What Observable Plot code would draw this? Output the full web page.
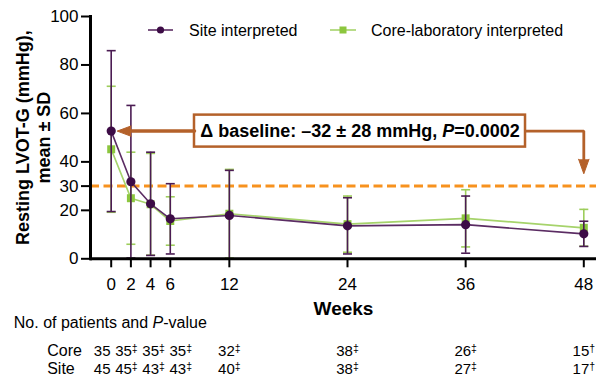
<!DOCTYPE html>
<html>
<head>
<meta charset="utf-8">
<script src="https://cdn.jsdelivr.net/npm/d3@7"></script>
<script src="https://cdn.jsdelivr.net/npm/@observablehq/plot@0.6"></script>
<style>
  html, body { margin: 0; padding: 0; background: #fff; }
  #wrap { position: relative; width: 596px; height: 377px; font-family: "Liberation Sans", Arial, sans-serif; }
  #legend { position: absolute; left: 0; top: 0; width: 596px; height: 40px; pointer-events: none; }
</style>
</head>
<body>
<div id="wrap"></div>
<script>
// ---- data ----
const weeks = [0, 2, 4, 6, 12, 24, 36, 48];
const siteMean = [52.7, 31.8, 22.7, 16.5, 17.9, 13.6, 14.1, 10.3];
const siteSD   = [33.2, 31.5, 21.3, 14.5, 18.6, 11.6, 11.8, 5.2];
const coreMean = [45.2, 25.0, 22.5, 15.6, 18.6, 14.3, 16.7, 12.8];
const coreSD   = [26.0, 19.0, 21.0, 10.0, 18.3, 11.6, 11.8, 7.6];
const coreN = [35, 35, 35, 35, 32, 38, 26, 15];
const siteN = [45, 45, 43, 43, 40, 38, 27, 17];
const sigMark = ["", "‡", "‡", "‡", "‡", "‡", "‡", "†"];
const yTicks = [0, 20, 30, 40, 60, 80, 100];
const threshold = 30;
const seriesNames = ["Site interpreted", "Core-laboratory interpreted"];
const annotationText = "Δ baseline: –32 ± 28 mmHg, _P_=0.0002";
const boxWeeks = [8.46, 42.08];
const boxHalfHeight = 6.6;
const arrowTipWeek = 0.61;
const downTip = 35.1;

// ---- colours ----
const purple = "#3d0c46", purpleLine = "#5b2c63", purpleBar = "#4b1c53";
const green = "#8cc63e", greenLine = "#a6d36b", greenBar = "#9dcd5b";
const brown = "#b4612a", orange = "#f7921e";

const site = weeks.map((w, i) => ({week: w, mean: siteMean[i], lo: Math.max(0, siteMean[i] - siteSD[i]), hi: siteMean[i] + siteSD[i]}));
const core = weeks.map((w, i) => ({week: w, mean: coreMean[i], lo: Math.max(0, coreMean[i] - coreSD[i]), hi: coreMean[i] + coreSD[i]}));
const table = weeks.map((w, i) => ({week: w, core: coreN[i] + sigMark[i], site: siteN[i] + sigMark[i]}));

const capSymbol = { draw(ctx, size) { const r = Math.sqrt(size / Math.PI); ctx.moveTo(-r, 0); ctx.lineTo(r, 0); } };

const y0 = siteMean[0];
const box = [{x1: boxWeeks[0], x2: boxWeeks[1], y1: y0 - boxHalfHeight, y2: y0 + boxHalfHeight}];
const leftArrow = [{x: boxWeeks[0], y: y0}, {x: arrowTipWeek + 1.0, y: y0}];
const rightArrow = [{x: boxWeeks[1], y: y0}, {x: weeks[7], y: y0}, {x: weeks[7], y: downTip + 5}];

function errorMarks(data, barColor) {
  return [
    Plot.ruleX(data, {x: "week", y1: "lo", y2: "hi", stroke: barColor, strokeWidth: 1.6}),
    Plot.dot(data, {x: "week", y: "hi", symbol: capSymbol, r: 4.5, stroke: barColor, strokeWidth: 1.6}),
    Plot.dot(data, {x: "week", y: "lo", symbol: capSymbol, r: 4.5, stroke: barColor, strokeWidth: 1.6})
  ];
}

const chart = Plot.plot({
  width: 596, height: 377,
  marginTop: 16, marginBottom: 118.7, marginLeft: 90, marginRight: 0,
  x: {domain: [0, 48], range: [110.7, 583.3]},
  y: {domain: [0, 100]},
  style: {fontFamily: "'Liberation Sans', Arial, sans-serif", fontSize: "17px", color: "#000", background: "#fff"},
  marks: [
    Plot.ruleY([threshold], {stroke: orange, strokeWidth: 3, strokeDasharray: "9,4.5"}),
    // core laboratory
    Plot.line(core, {x: "week", y: "mean", stroke: greenLine, strokeWidth: 1.7}),
    ...errorMarks(core, greenBar),
    Plot.dot(core, {x: "week", y: "mean", symbol: "square", r: 4.5, fill: green}),
    // site
    Plot.line(site, {x: "week", y: "mean", stroke: purpleLine, strokeWidth: 1.6}),
    ...errorMarks(site, purpleBar),
    Plot.dot(site, {x: "week", y: "mean", r: 4.6, fill: purple}),
    // annotation
    Plot.rect(box, {x1: "x1", x2: "x2", y1: "y1", y2: "y2", fill: "#fff", stroke: brown, strokeWidth: 2.5}),
    Plot.text([annotationText], {x: (boxWeeks[0] + boxWeeks[1]) / 2, y: y0, text: d => d, fontWeight: "bold", fontSize: 18, lineAnchor: "middle"}),
    Plot.line(leftArrow, {x: "x", y: "y", stroke: brown, strokeWidth: 3.5}),
    Plot.vector([{x: arrowTipWeek, y: y0}], {x: "x", y: "y", rotate: -90, length: 14, r: 5.2, shape: "spike", anchor: "end", fill: brown, stroke: brown, strokeWidth: 1, fillOpacity: 1}),
    Plot.line(rightArrow, {x: "x", y: "y", stroke: brown, strokeWidth: 2.8, strokeLinejoin: "miter"}),
    Plot.vector([{x: weeks[7], y: downTip}], {x: "x", y: "y", rotate: 180, length: 14.5, r: 5.2, shape: "spike", anchor: "end", fill: brown, stroke: brown, strokeWidth: 1, fillOpacity: 1}),
    // axes
    Plot.axisY({ticks: yTicks, tickSize: 9, tickPadding: 3, strokeWidth: 2, fontSize: 17, label: null}),
    Plot.axisX({ticks: weeks, tickSize: 9, tickPadding: 10, strokeWidth: 2, fontSize: 17, label: null}),
    Plot.ruleY([0], {strokeWidth: 3}),
    Plot.frame({anchor: "left", strokeWidth: 3}),
    // axis labels
    Plot.text(["Resting LVOT-G (mmHg),\nmean ± SD"], {frameAnchor: "left", text: d => d, rotate: -90, dx: -57.7, fontWeight: "bold", fontSize: 18, lineHeight: 1.19, textAnchor: "middle", lineAnchor: "middle"}),
    Plot.text(["Weeks"], {frameAnchor: "bottom", text: d => d, dy: 50, fontWeight: "bold", fontSize: 19, lineAnchor: "middle"}),
    // patient table
    Plot.text(["No. of patients and _P_-value"], {frameAnchor: "bottom-left", text: d => d, dx: -76.7, dy: 64.2, fontSize: 16, textAnchor: "start", lineAnchor: "middle"}),
    Plot.text(["Core"], {frameAnchor: "bottom-left", text: d => d, dx: -43.3, dy: 92.5, fontSize: 16, textAnchor: "start", lineAnchor: "middle"}),
    Plot.text(["Site"], {frameAnchor: "bottom-left", text: d => d, dx: -43.3, dy: 110.5, fontSize: 16, textAnchor: "start", lineAnchor: "middle"}),
    Plot.text(table, {x: "week", frameAnchor: "bottom", text: "core", dy: 92.5, fontSize: 15, textAnchor: "middle", lineAnchor: "middle", ariaDescription: "table-row"}),
    Plot.text(table, {x: "week", frameAnchor: "bottom", text: "site", dy: 110.5, fontSize: 15, textAnchor: "middle", lineAnchor: "middle", ariaDescription: "table-row"})
  ]
});

// rich text: italic P and superscript daggers
const NS = "http://www.w3.org/2000/svg";
chart.querySelectorAll("text").forEach(t => {
  if (t.children.length) return;
  const s = t.textContent;
  if (!/[‡†]|_P_/.test(s)) return;
  const parts = s.split(/(_P_|[‡†])/).filter(p => p !== "");
  t.textContent = "";
  for (const p of parts) {
    const ts = document.createElementNS(NS, "tspan");
    if (p === "_P_") { ts.textContent = "P"; ts.setAttribute("font-style", "italic"); }
    else if (p === "‡" || p === "†") { ts.textContent = p; ts.setAttribute("font-size", "0.7em"); ts.setAttribute("dy", "-0.4em"); }
    else ts.textContent = p;
    t.appendChild(ts);
  }
});

const wrap = document.getElementById("wrap");
wrap.appendChild(chart);

// spread crowded table labels apart (cluster-based 1D label placement around their week positions)
const GAP = 4.5;
chart.querySelectorAll('g[aria-description="table-row"]').forEach(g => {
  const items = Array.from(g.querySelectorAll("text")).map(t => {
    const m = /translate\(([-\d.e]+),\s*([-\d.e]+)\)/.exec(t.getAttribute("transform") || "");
    return {t, c: m ? +m[1] : 0, y: m ? +m[2] : 0, w: t.getBBox().width};
  }).sort((a, b) => a.c - b.c);
  let clusters = items.map(it => ({items: [it]}));
  const place = cl => {
    const total = d3.sum(cl.items, d => d.w) + GAP * (cl.items.length - 1);
    let off = 0; const rel = cl.items.map(d => { const r = off + d.w / 2; off += d.w + GAP; return r; });
    const start = d3.mean(cl.items, d => d.c) - d3.mean(rel);
    cl.start = start; cl.end = start + total; cl.rel = rel;
  };
  clusters.forEach(place);
  let merged = true;
  while (merged) {
    merged = false;
    for (let i = 0; i < clusters.length - 1; i++) {
      if (clusters[i].end + GAP > clusters[i + 1].start) {
        clusters.splice(i, 2, {items: clusters[i].items.concat(clusters[i + 1].items)});
        place(clusters[i]);
        merged = true; break;
      }
    }
  }
  clusters.forEach(cl => cl.items.forEach((d, j) => {
    const nc = cl.start + cl.rel[j];
    d.t.setAttribute("transform", `translate(${nc},${d.y})`);
  }));
});

// legend
const legend = document.createElementNS(NS, "svg");
legend.setAttribute("id", "legend");
legend.setAttribute("width", 596);
legend.setAttribute("height", 40);
legend.innerHTML = `
  <line x1="148" x2="173" y1="30" y2="30" stroke="${purpleLine}" stroke-width="1.6"/>
  <circle cx="160.5" cy="30" r="3.6" fill="${purple}"/>
  <text x="189" y="30" dy="0.35em" font-size="16" font-family="'Liberation Sans', Arial, sans-serif">${seriesNames[0]}</text>
  <line x1="330" x2="356" y1="30" y2="30" stroke="${greenLine}" stroke-width="1.6"/>
  <rect x="339.5" y="26.5" width="7" height="7" fill="${green}"/>
  <text x="371" y="30" dy="0.35em" font-size="16" font-family="'Liberation Sans', Arial, sans-serif">${seriesNames[1]}</text>`;
wrap.appendChild(legend);
</script>
</body>
</html>
